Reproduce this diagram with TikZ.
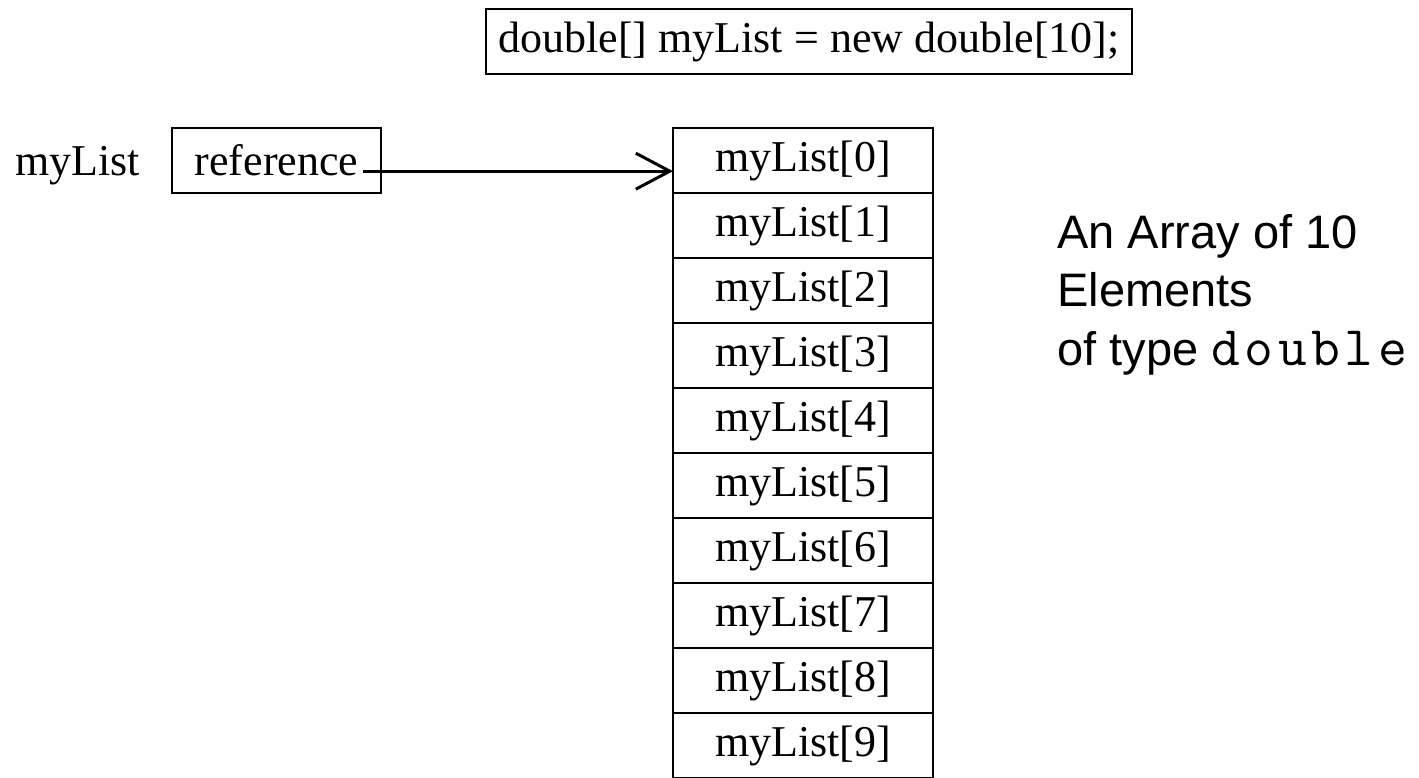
\documentclass[tikz,border=0pt]{standalone}
\usepackage{fontspec}
\setmainfont{Liberation Serif}
\setsansfont{Liberation Sans}
\setmonofont{Latin Modern Mono}[LetterSpace=8]
\usetikzlibrary{arrows.meta,positioning}

\begin{document}
\begin{tikzpicture}[>={Straight Barb[length=17pt,width=18pt]}, x=0.5pt, y=0.5pt, node distance=32.5pt]
	\tikzstyle{cell} = [draw, line width=1pt, minimum width=130pt, minimum height=32.5pt, inner sep=0pt, outer sep=0pt, font=\fontsize{22}{26}\selectfont]
	\tikzstyle{plain} = [inner sep=0pt, font=\fontsize{22}{26}\selectfont]

	\useasboundingbox (0,0) rectangle (1419,-777);

	% declaration on top
	\node[cell, minimum width=323pt] (decl) at (809,-41.5) {double[] myList = new double[10];};

	% the variable and the reference it holds
	\node[plain, anchor=base west] (var) at (15,-175) {myList};
	\node[cell, minimum width=104.5pt] (ref) at (276.5,-160.5) {reference};

	% the ten elements
	\path
	node[cell] (c0) at (803,-160.5) {myList[0]}
	node[cell, below of=c0] (c1) {myList[1]}
	node[cell, below of=c1] (c2) {myList[2]}
	node[cell, below of=c2] (c3) {myList[3]}
	node[cell, below of=c3] (c4) {myList[4]}
	node[cell, below of=c4] (c5) {myList[5]}
	node[cell, below of=c5] (c6) {myList[6]}
	node[cell, below of=c6] (c7) {myList[7]}
	node[cell, below of=c7] (c8) {myList[8]}
	node[cell, below of=c8] (c9) {myList[9]}
	;

	\coordinate (refend) at ([xshift=-9pt]ref.mid east);
	\draw[->, line width=1.5pt] (refend) -- (refend -| c0.west);

	% base anchor sits on the last line here
	\node[align=left, anchor=base west, inner sep=0pt, font=\sffamily\fontsize{23.5}{29.25}\selectfont] (note) at (1057,-365)
		{An Array of 10\\Elements\\of type {\ttfamily\fontsize{28}{29.25}\selectfont double}};
\end{tikzpicture}
\end{document}
